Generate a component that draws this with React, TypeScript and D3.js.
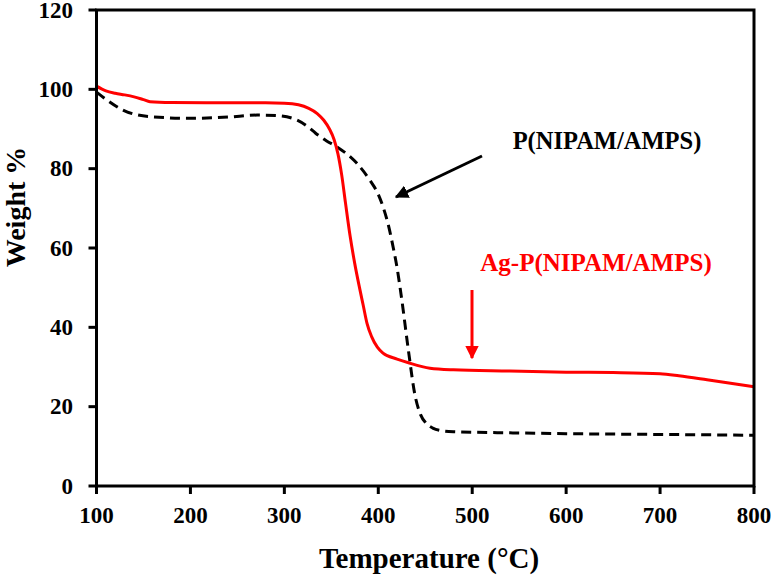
import React from "react";
import * as d3 from "d3";

const redTemps = [100, 110, 120, 130, 140, 150, 157, 180, 235, 280, 300, 315, 326, 335, 342, 348, 353, 357, 361, 365, 370, 375, 380, 384, 388, 393, 399, 405, 420, 433, 455, 480, 540, 600, 650, 700, 720, 750, 800];
const redWeights = [100.8, 99.6, 99.0, 98.6, 98.1, 97.4, 96.9, 96.7, 96.6, 96.6, 96.5, 96.1, 95.2, 93.9, 92.2, 90.0, 87.3, 83.8, 78.5, 71.5, 63, 56, 50, 45.5, 41, 37.6, 35, 33.5, 32, 31, 29.7, 29.3, 29, 28.7, 28.6, 28.3, 27.8, 26.8, 25];

const blackTemps = [100, 110, 128, 157, 200, 240, 271, 292, 313, 327, 333, 345, 356, 377, 391, 400, 406, 411, 416, 420, 425, 432, 439, 445, 451, 458, 466, 480, 540, 600, 700, 800];
const blackWeights = [99.3, 97.5, 94.8, 93.1, 92.7, 93.0, 93.5, 93.4, 92.3, 90.2, 89, 87, 85.5, 81.4, 77.1, 73.5, 69.7, 65.5, 60, 55, 47, 34.3, 23, 18, 15.8, 14.6, 14.0, 13.7, 13.4, 13.2, 13.0, 12.8];

const xTicks = [100, 200, 300, 400, 500, 600, 700, 800];
const yTicks = [0, 20, 40, 60, 80, 100, 120];

const W = 774, H = 576;
const left = 96.5, right = 754, top = 10, bottom = 486;
const font = "'Liberation Serif', 'Times New Roman', serif";

export default function App() {
  const x = d3.scaleLinear().domain([100, 800]).range([left, right]);
  const y = d3.scaleLinear().domain([0, 120]).range([bottom, top]);
  const line = d3.line<[number, number]>().x(d => x(d[0])).y(d => y(d[1])).curve(d3.curveMonotoneX);
  const redPts = redTemps.map((t, i) => [t, redWeights[i]] as [number, number]);
  const blackPts = blackTemps.map((t, i) => [t, blackWeights[i]] as [number, number]);

  return (
    <svg width={W} height={H} style={{ position: "absolute", left: 0, top: 0, background: "#fff" }} fontFamily={font} fontWeight="bold">
      <defs>
        <marker id="ah-black" viewBox="0 0 10 10" refX="9" refY="5" markerWidth="4.5" markerHeight="4.5" orient="auto" markerUnits="strokeWidth">
          <path d="M0,0 L10,5 L0,10 z" fill="#000" />
        </marker>
        <marker id="ah-red" viewBox="0 0 10 10" refX="9" refY="5" markerWidth="4.5" markerHeight="4.5" orient="auto" markerUnits="strokeWidth">
          <path d="M0,0 L10,5 L0,10 z" fill="#ff0000" />
        </marker>
      </defs>
      <path d={line(blackPts) || ""} fill="none" stroke="#000" strokeWidth={3} strokeDasharray="10,6" />
      <path d={line(redPts) || ""} fill="none" stroke="#ff0000" strokeWidth={3} />
      <rect x={left} y={top} width={right - left} height={bottom - top} fill="none" stroke="#000" strokeWidth={3} />
      {yTicks.map(t => (
        <g key={"y" + t}>
          <line x1={left - 8} x2={left} y1={y(t)} y2={y(t)} stroke="#000" strokeWidth={3} />
          <text x={73} y={y(t) + 7.5} textAnchor="end" fontSize={23}>{t}</text>
        </g>
      ))}
      {xTicks.map(t => (
        <g key={"x" + t}>
          <line x1={x(t)} x2={x(t)} y1={bottom} y2={bottom + 8} stroke="#000" strokeWidth={3} />
          <text x={x(t)} y={523} textAnchor="middle" fontSize={23}>{t}</text>
        </g>
      ))}
      <text x={429} y={568} textAnchor="middle" fontSize={29}>Temperature (°C)</text>
      <text transform="translate(25,207) rotate(-90)" textAnchor="middle" fontSize={28}>Weight %</text>
      <text x={607} y={149} textAnchor="middle" fontSize={24.5}>P(NIPAM/AMPS)</text>
      <text x={596} y={271} textAnchor="middle" fontSize={25} fill="#ff0000">Ag-P(NIPAM/AMPS)</text>
      <line x1={482} y1={156} x2={396} y2={197} stroke="#000" strokeWidth={3} markerEnd="url(#ah-black)" />
      <line x1={472} y1={290} x2={472} y2={358} stroke="#ff0000" strokeWidth={3} markerEnd="url(#ah-red)" />
    </svg>
  );
}
